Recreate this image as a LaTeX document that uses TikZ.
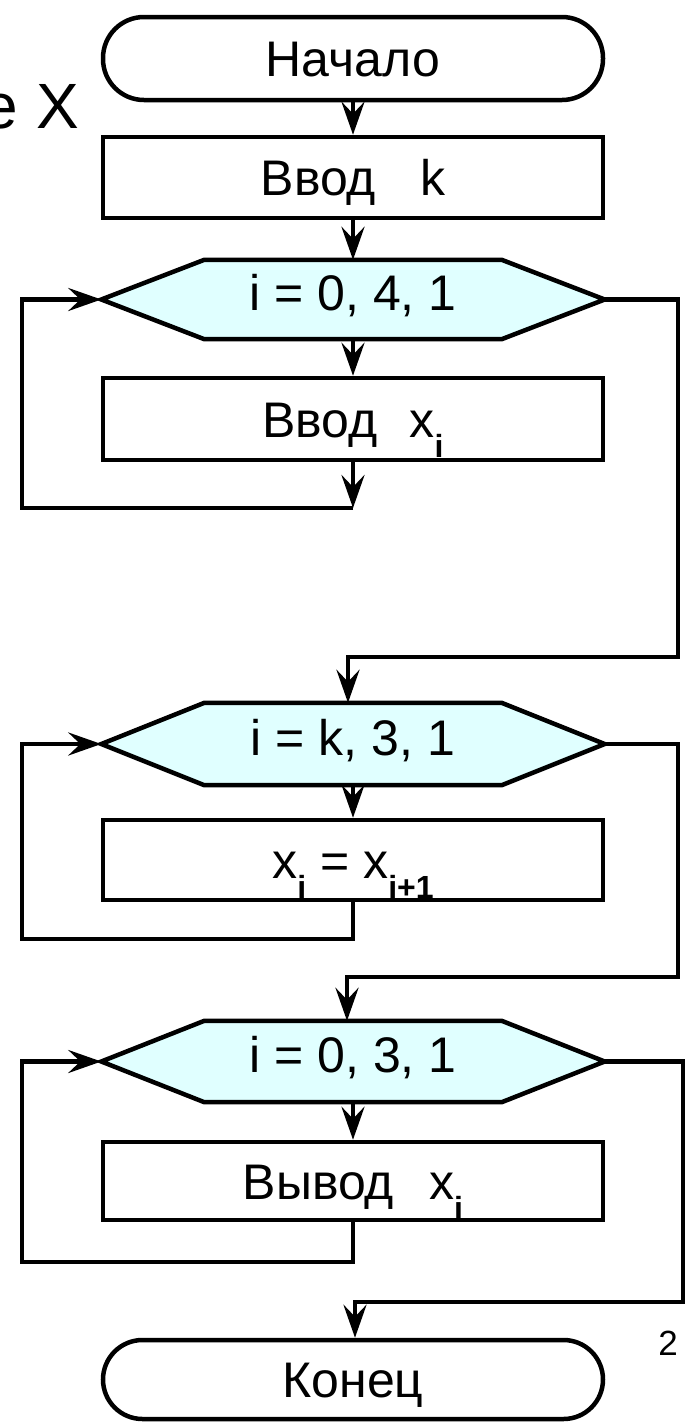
\documentclass[tikz,border=0pt]{standalone}
\usepackage{fontspec}
\setmainfont{Liberation Sans}
\usetikzlibrary{arrows.meta,calc}
\definecolor{hexfill}{RGB}{224,255,255}
\newcommand{\subi}[1]{\raisebox{-20pt}{\fontsize{32pt}{32pt}\selectfont\bfseries #1}}
\pgfdeclarelayer{bg}
\pgfsetlayers{bg,main}
\begin{document}
\begin{tikzpicture}[x=1pt,y=-1pt,
  every node/.style={font=\fontsize{50pt}{56pt}\selectfont, inner sep=0pt},
  line/.style={line width=4.5pt},
  arr/.style={line, -{Stealth[length=33pt,width=23pt,inset=12pt]}},
  term/.style={draw, line width=4.5pt, minimum width=500pt, text height=36pt, text depth=0pt},
  procbox/.style={draw, line width=4.5pt, minimum width=500pt, text height=36pt, text depth=0pt},
  loophex/.style={minimum width=503pt, text height=22pt, text depth=0pt},
  hexpath/.style={line width=4.5pt, fill=hexfill, line join=miter},
]
\useasboundingbox (0,0) rectangle (688,1422);

% title fragment
\node[anchor=base east, font=\fontsize{64pt}{70pt}\selectfont] (title) at (79,128) {е X};

% nodes
\node[term, rounded corners=41pt, minimum height=83pt] (start) at (353,58.5) {Начало};
\node[procbox, minimum height=81pt] (in1) at (353,177.5) {Ввод\hspace{44pt}k};

\node[loophex, minimum height=79pt] (h1) at (353,299.5) {i = 0, 4, 1};
\node[procbox, minimum height=82pt] (b2) at (353,419) {Ввод\hspace{32pt}x\subi{i}};

\node[loophex, minimum height=82pt] (h2) at (353,744) {i = k, 3, 1};
\node[procbox, minimum height=80pt] (b3) at (353,860) {x\subi{i} = x\subi{i+1}};

\node[loophex, minimum height=81pt] (h3) at (353,1061.5) {i = 0, 3, 1};
\node[procbox, minimum height=78pt] (b4) at (353,1181) {Вывод\hspace{35pt}x\subi{i}};

\node[term, rounded corners=39.5pt, minimum height=79pt] (stop) at (353,1379.5) {Конец};

\node[anchor=base, font=\fontsize{35pt}{40pt}\selectfont] (pg) at (668,1355) {2};

% hexagon outlines
\begin{pgfonlayer}{bg}
\foreach \h in {h1,h2,h3}{
  \draw[hexpath] (\h.west) -- ($(\h.north west)+(103,0)$) -- ($(\h.north east)+(-103,0)$)
    -- (\h.east) -- ($(\h.south east)+(-103,0)$) -- ($(\h.south west)+(103,0)$) -- cycle;
}
\end{pgfonlayer}

% coordinates
\coordinate (l1) at (353,508);
\coordinate (l2) at (353,939);
\coordinate (l3) at (353,1262);
\coordinate (r1) at (678,657);
\coordinate (j1) at (348,657);
\coordinate (r2) at (678,977);
\coordinate (j2) at (347,977);
\coordinate (r3) at (683,1302);
\coordinate (j3) at (355,1302);

% main flow
\draw[arr] (start) -- (in1);
\draw[arr] (in1) -- (h1);
\draw[arr] (h1) -- (b2);
\draw[arr] (b2) -- (l1);
\draw[arr] (l1) -- ++(-331,0) |- (h1.west);
\draw[arr] (h1.east) -| (r1) -- (j1) -- (j1 |- h2.north);

\draw[arr] (h2) -- (b3);
\draw[arr] (b3.south) -- (l2) -- ++(-331,0) |- (h2.west);
\draw[arr] (h2.east) -| (r2) -- (j2) -- (j2 |- h3.north);

\draw[arr] (h3) -- (b4);
\draw[arr] (b4.south) -- (l3) -- ++(-331,0) |- (h3.west);
\draw[arr] (h3.east) -| (r3) -- (j3) -- (j3 |- stop.north);
\end{tikzpicture}
\end{document}
